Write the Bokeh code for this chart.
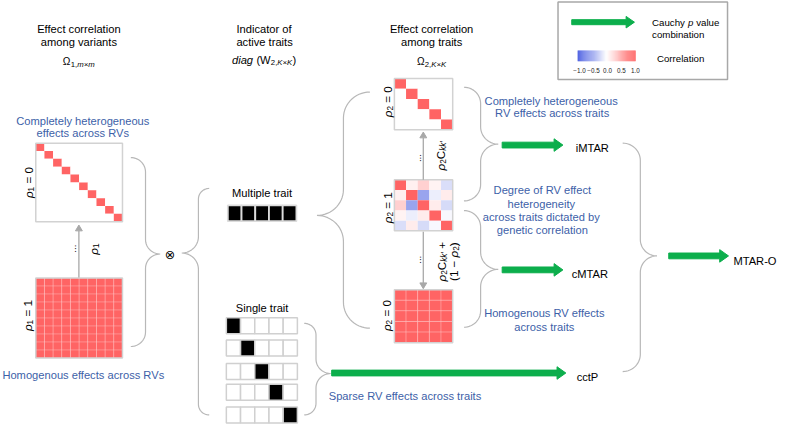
import numpy as np
from bokeh.plotting import figure
from bokeh.models import Range1d
from bokeh.embed import file_html
from bokeh.resources import INLINE
from bokeh.core.properties import value

# ---------------- data ----------------
n_variants = 10
n_traits = 5
variant_diag = [0, 1, 2, 3, 4, 5, 6, 7, 8, 9]      # active cells when rho1 = 0
trait_diag = [0, 1, 2, 3, 4]                       # active cells when rho2 = 0
trait_corr = [
    [1.00, 0.10, 0.30, 0.08, -0.20],
    [0.10, 1.00, -0.55, -0.10, 0.12],
    [0.30, -0.55, 1.00, 0.12, -0.22],
    [0.08, -0.10, 0.12, 1.00, -0.04],
    [-0.20, 0.12, -0.22, -0.04, 1.00],
]
full_corr = 1.0
multiple_trait = [1, 1, 1, 1, 1]
single_trait_active = [0, 1, 2, 3, 4]
colorbar_ticks = [-1.0, -0.5, 0.0, 0.5, 1.0]
colorbar_labels = ["\u22121.0", "\u22120.5", "0.0", "0.5", "1.0"]

# ---------------- style ----------------
FONT = "Liberation Sans"
FS = 0.97            # font scale (figure is drawn at 777x426 for a 793x442 layout)
NB = "\u00a0"
BLUE_TXT = "#3d5fa8"
RED = (255, 100, 100)
BLUEC = (70, 90, 225)
GREEN = "#0cae4c"
BRACE = "#b8b8b8"
FRAME = "#d2d2d2"
GRAYARROW = "#a8a8a8"


def corr_color(v):
    c = RED if v >= 0 else BLUEC
    a = min(abs(v), 1.0)
    r, g, b = (round(255 + (ci - 255) * a) for ci in c)
    return "#%02x%02x%02x" % (r, g, b)


p = figure(width=777, height=426, x_range=Range1d(0, 793), y_range=Range1d(442, 0),
           output_backend="svg", toolbar_location=None, min_border=0,
           x_axis_location=None, y_axis_location=None)
p.grid.visible = False
p.outline_line_color = None
p.background_fill_color = "white"
p.border_fill_color = "white"

# ---------------- text helpers ----------------
W = {'Ω': 0.77, 'ρ': 0.58, '0': 0.556, '1': 0.556, '2': 0.556, ',': 0.278, 'm': 0.833,
     '×': 0.584, 'K': 0.667, 'k': 0.5, '′': 0.22, ' ': 0.278, NB: 0.278, '=': 0.584,
     'C': 0.722, '+': 0.584, '(': 0.333, ')': 0.333, '−': 0.584, 'd': 0.556, 'i': 0.222,
     'a': 0.556, 'g': 0.556, 'W': 0.944, 'p': 0.556, 'v': 0.5, 'l': 0.222, 'u': 0.556,
     'e': 0.556, 'h': 0.556, 'y': 0.5, 'c': 0.5, '.': 0.278}


def tw(s, size):
    return sum(W.get(ch, 0.55) for ch in s) * size


def run(pieces, x, y, align="center", angle=0.0, color="black"):
    widths = [tw(pc[0], pc[1]) for pc in pieces]
    total = sum(widths)
    off = {"left": 0.0, "center": -total / 2, "right": -total}[align]
    for (t, s, style, dy), w in zip(pieces, widths):
        if angle == 0:
            px, py = x + off, y + dy
        else:
            px, py = x + dy, y - off
        p.text(x=[px], y=[py], text=[t.replace(" ", NB)], text_font=value(FONT),
               text_font_size=f"{s * FS:.2f}px", text_font_style=style, text_color=color,
               text_align="left", text_baseline="alphabetic", angle=angle)
        off += w


def label(t, x, y, size=11.5, color="black", align="center", style="normal"):
    p.text(x=[x], y=[y], text=[t], text_font=value(FONT), text_font_size=f"{size * FS:.2f}px",
           text_font_style=style, text_color=color, text_align=align,
           text_baseline="alphabetic")


def brace(x0, xv, xt, yt, ym, yb, n=16):
    s1 = np.sign(xv - x0); r1 = abs(xv - x0)
    s2 = np.sign(xt - xv); r2 = abs(xt - xv)
    t = np.linspace(0, np.pi / 2, n)
    xs = list(x0 + s1 * r1 * np.sin(t)); ys = list(yt + r1 * (1 - np.cos(t)))
    xs += list(xv + s2 * r2 * (1 - np.cos(t))); ys += list(ym - r2 + r2 * np.sin(t))
    xs += list(xv + s2 * r2 * (1 - np.sin(t))); ys += list(ym + r2 * (1 - np.cos(t)))
    xs += list(x0 + s1 * r1 * np.cos(t)); ys += list(yb - r1 * (1 - np.sin(t)))
    return xs, ys


def green_arrow(x0, x1, y, hw=3.0, hh=6.5, hl=9.0):
    xs = [x0, x1 - hl, x1 - hl, x1, x1 - hl, x1 - hl, x0]
    ys = [y - hw, y - hw, y - hh, y, y + hh, y + hw, y + hw]
    return xs, ys


def gray_arrow(x, y0, y1, hl=6.0, hw=3.5):
    d = np.sign(y1 - y0)
    p.line([x, x], [y0, y1 - d * hl], line_color=GRAYARROW, line_width=1.3)
    p.patch([x - hw, x + hw, x], [y1 - d * hl, y1 - d * hl, y1], fill_color=GRAYARROW,
            line_color=GRAYARROW)


def matrix(left, top, right, bottom, colors, grid_color=None, grid_alpha=1.0):
    n = len(colors)
    cw = (right - left) / n; ch = (bottom - top) / n
    L, R, T, B, C = [], [], [], [], []
    for i in range(n):
        for j in range(n):
            L.append(left + j * cw); R.append(left + (j + 1) * cw)
            T.append(top + i * ch); B.append(top + (i + 1) * ch)
            C.append(colors[i][j])
    p.quad(left=L, right=R, top=T, bottom=B, fill_color=C,
           line_color=grid_color, line_alpha=grid_alpha, line_width=1)
    p.quad(left=[left], right=[right], top=[top], bottom=[bottom], fill_alpha=0,
           line_color=FRAME, line_width=1.5)


def diag_colors(n, diag):
    return [[corr_color(full_corr) if j == diag[i] else "#ffffff" for j in range(n)]
            for i in range(n)]


def full_colors(n):
    return [[corr_color(full_corr)] * n for _ in range(n)]


# ---------------- headers ----------------
label("Effect correlation", 80, 29.3)
label("among variants", 80, 42.7)
run([("Ω", 10.5, "normal", 0), ("1,", 8, "normal", 2.5), ("m×m", 8, "italic", 2.5)], 80, 63.5)
label("Indicator of", 269, 29.3)
label("active traits", 269.5, 42.7)
run([("diag", 11.5, "italic", 0), (" (W", 11.5, "normal", 0), ("2,", 8, "normal", 2.5),
     ("K×K", 8, "italic", 2.5), (")", 11.5, "normal", 0)], 269, 61.5)
label("Effect correlation", 440, 29.3)
label("among traits", 440, 42.7)
run([("Ω", 10.5, "normal", 0), ("2,", 8, "normal", 2.5), ("K×K", 8, "italic", 2.5)], 440, 63.5)

# ---------------- legend ----------------
p.quad(left=[569], right=[742], top=[1.5], bottom=[82], fill_alpha=0,
       line_color="#a8a8a8", line_width=1.5)
gx, gy = green_arrow(583, 647, 22.5, hw=2.6, hh=6.0, hl=8.5)
p.patch(gx, gy, fill_color=GREEN, line_color=GREEN)
run([("Cauchy ", 10, "normal", 0), ("p", 10, "italic", 0), (" value", 10, "normal", 0)],
    665, 23.3, align="left")
label("combination", 665, 35, size=10, align="left")
label("Correlation", 670, 60, size=10, align="left")
cb_l, cb_r, cb_t, cb_b = 589, 648, 52, 63
nsl = 60
vals = np.linspace(-1, 1, nsl)
edges = np.linspace(cb_l, cb_r, nsl + 1)
p.quad(left=edges[:-1], right=edges[1:] + 0.3, top=[cb_t] * nsl, bottom=[cb_b] * nsl,
       fill_color=[corr_color(v) for v in vals], line_color=None)
tick_x = [cb_l + 2 + (t + 1) / 2 * (cb_r - cb_l - 2) for t in colorbar_ticks]
p.text(x=tick_x, y=[72.3] * 5, text=colorbar_labels, text_font=value(FONT),
       text_font_size=f"{6.5 * FS:.2f}px", text_align="center", text_baseline="alphabetic",
       text_color="#222222")

# ---------------- left column (variants) ----------------
label("Completely heterogeneous", 84, 125, color=BLUE_TXT)
label("effects across RVs", 84, 137.7, color=BLUE_TXT)
matrix(36, 148, 124.5, 229.5, diag_colors(n_variants, variant_diag))
matrix(36, 288, 124.5, 371, full_colors(n_variants), grid_color="white", grid_alpha=0.2)
label("Homogenous effects across RVs", 84.5, 389, color=BLUE_TXT)
gray_arrow(80, 287.5, 233)
run([("...", 10, "normal", 0)], 74, 257.5, angle=np.pi / 2)
run([("ρ", 12, "italic", 0), ("1", 8.5, "normal", 2.5)], 95, 258, angle=np.pi / 2)
run([("ρ", 12, "italic", 0), ("1", 8.5, "normal", 2.5), (" = 0", 12, "normal", 0)],
    29, 189, angle=np.pi / 2)
run([("ρ", 12, "italic", 0), ("1", 8.5, "normal", 2.5), (" = 1", 12, "normal", 0)],
    28, 327, angle=np.pi / 2)

# ---------------- braces ----------------
braces = [
    (133, 148, 163, 163, 263, 359),
    (213, 202, 185, 195, 262, 430),
    (377, 350, 323, 95, 223, 340),
    (473, 490, 508, 90, 149, 208),
    (473, 490, 508, 218, 279, 339),
    (310, 322, 337, 335, 387, 430),
    (635, 653, 670, 148, 265, 385),
]
bxs, bys = [], []
for b in braces:
    xs, ys = brace(*b)
    bxs.append(xs); bys.append(ys)
p.multi_line(bxs, bys, line_color=BRACE, line_width=1.2)

p.text(x=[173], y=[263.5], text=["⊗"], text_font=value("DejaVu Sans"),
       text_font_size=f"{13 * FS:.2f}px", text_align="center", text_baseline="middle",
       text_color="black")

# ---------------- middle column (traits indicator) ----------------
label("Multiple trait", 267, 200)
cw = (302 - 232) / n_traits
p.quad(left=[232 + j * cw for j in range(n_traits)],
       right=[232 + (j + 1) * cw for j in range(n_traits)],
       top=[212.5] * n_traits, bottom=[229] * n_traits,
       fill_color=["black" if v else "white" for v in multiple_trait],
       line_color="#dcdcdc", line_width=1.8)

label("Single trait", 267, 318.7)
row_c = [337.5, 360.5, 385, 406.5, 430]
rl, rr, rh = 230.5, 303, 16.5
cw = (rr - rl) / n_traits
L, R, T, B, C = [], [], [], [], []
for r, act in enumerate(single_trait_active):
    for j in range(n_traits):
        L.append(rl + j * cw); R.append(rl + (j + 1) * cw)
        T.append(row_c[r] - rh / 2); B.append(row_c[r] + rh / 2)
        C.append("black" if j == act else "white")
p.quad(left=L, right=R, top=T, bottom=B, fill_color=C, line_color="#d0d0d0", line_width=1.5)

# ---------------- right column (traits correlation) ----------------
matrix(402, 81, 461.5, 134, diag_colors(n_traits, trait_diag))
matrix(402, 186, 461.5, 239, [[corr_color(v) for v in row] for row in trait_corr])
matrix(402, 300, 461.5, 355, full_colors(n_traits), grid_color="white", grid_alpha=0.2)
gray_arrow(431.5, 186, 136.5)
gray_arrow(431.5, 240, 299)
run([("ρ", 12, "italic", 0), ("2", 8.5, "normal", 2.5), (" = 0", 12, "normal", 0)],
    395, 105, angle=np.pi / 2)
run([("ρ", 12, "italic", 0), ("2", 8.5, "normal", 2.5), (" = 1", 12, "normal", 0)],
    395, 215, angle=np.pi / 2)
run([("ρ", 12, "italic", 0), ("2", 8.5, "normal", 2.5), (" = 0", 12, "normal", 0)],
    394, 327, angle=np.pi / 2)
run([("...", 10, "normal", 0)], 426, 163.5, angle=np.pi / 2)
run([("...", 10, "normal", 0)], 426, 269, angle=np.pi / 2)
run([("ρ", 12, "italic", 0), ("2", 8.5, "normal", 2.5), ("C", 12, "normal", 0),
     ("kk′", 8.5, "italic", 2.5)], 449.5, 161, angle=np.pi / 2)
run([("ρ", 12, "italic", 0), ("2", 8.5, "normal", 2.5), ("C", 12, "normal", 0),
     ("kk′", 8.5, "italic", 2.5), (" +", 12, "normal", 0)], 450.5, 271, angle=np.pi / 2)
run([("(1 − ", 12, "normal", 0), ("ρ", 12, "italic", 0), ("2", 8.5, "normal", 2.5),
     (")", 12, "normal", 0)], 462, 271, angle=np.pi / 2)

label("Completely heterogeneous", 562, 104, color=BLUE_TXT)
label("RV effects across traits", 563, 116.7, color=BLUE_TXT)
label("Degree of RV effect", 553, 196.7, color=BLUE_TXT)
label("heterogeneity", 552, 210.7, color=BLUE_TXT)
label("across traits dictated by", 552, 224.3, color=BLUE_TXT)
label("genetic correlation", 553, 238.3, color=BLUE_TXT)
label("Homogenous RV effects", 555, 324, color=BLUE_TXT)
label("across traits", 555, 338.3, color=BLUE_TXT)
label("Sparse RV effects across traits", 335, 410.7, color=BLUE_TXT, align="left")

# ---------------- green arrows and test labels ----------------
arrows = [(512, 574, 150), (512, 574, 279.5), (338, 577, 386.5), (682, 743, 265)]
axs, ays = [], []
for a in arrows:
    xs, ys = green_arrow(*a)
    axs.append(xs); ays.append(ys)
p.patches(axs, ays, fill_color=GREEN, line_color=GREEN)

label("iMTAR", 587, 153.3, align="left")
label("cMTAR", 583, 284, align="left")
label("cctP", 588, 390.5, align="left")
label("MTAR-O", 748, 270, align="left")

open("out.html", "w").write(file_html(p, INLINE))
